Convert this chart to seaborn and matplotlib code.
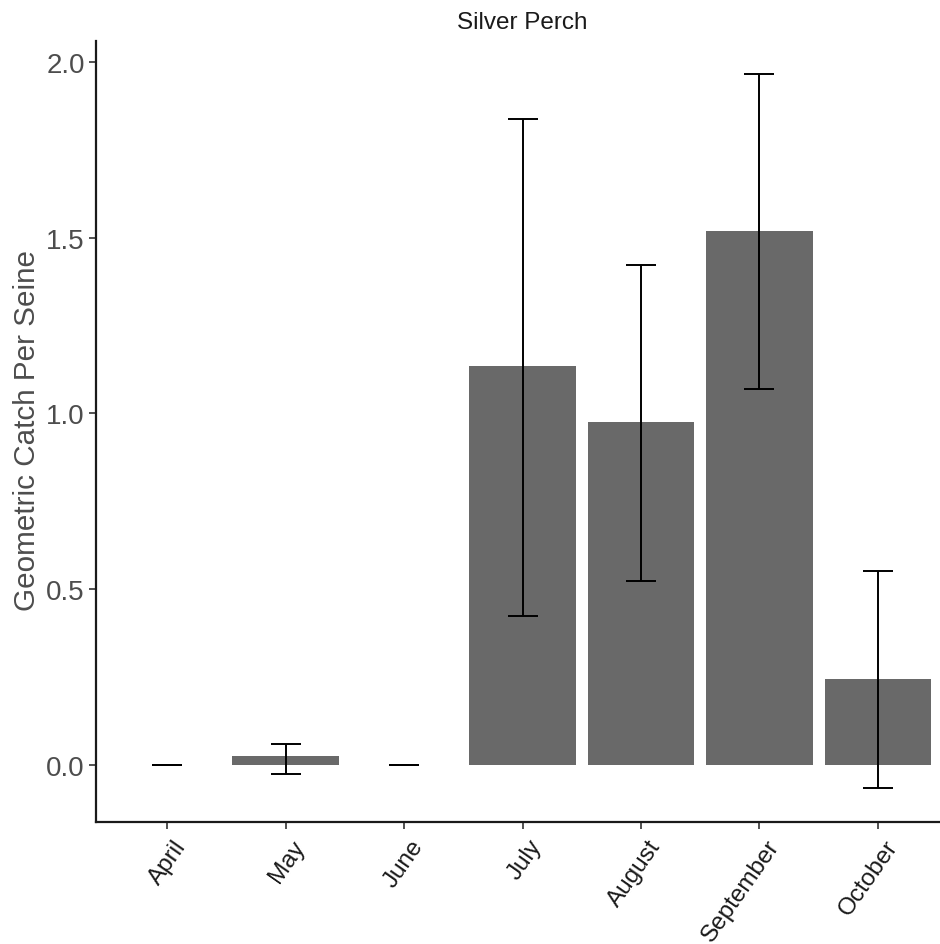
import numpy as np
import pandas as pd
import matplotlib
matplotlib.use("Agg")
import matplotlib.pyplot as plt
import matplotlib.transforms as mtransforms
import seaborn as sns

months = ["April", "May", "June", "July", "August", "September", "October"]
catch_mean = [0.0, 0.026, 0.0, 1.134, 0.975, 1.520, 0.245]
ci_lower = [0.0, -0.026, 0.0, 0.425, 0.523, 1.069, -0.065]
ci_upper = [0.0, 0.060, 0.0, 1.838, 1.422, 1.964, 0.551]
y_ticks = [0.0, 0.5, 1.0, 1.5, 2.0]

df = pd.DataFrame({"month": months, "mean": catch_mean,
                   "lo": ci_lower, "hi": ci_upper})

sns.set_theme(style="ticks")
plt.rcParams["font.family"] = ["Liberation Sans", "DejaVu Sans"]

fig = plt.figure(figsize=(9.4, 9.45), dpi=100)
ax = fig.add_axes([96 / 940, 1 - 822.7 / 945, 853 / 940, 780.7 / 945])

sns.barplot(data=df, x="month", y="mean", order=months, color="#696969",
            saturation=1, width=0.9, errorbar=None, ax=ax,
            edgecolor="none", linewidth=0)

pos = np.arange(len(months))
means = np.array(catch_mean)
yerr = np.vstack([means - np.array(ci_lower), np.array(ci_upper) - means])
ax.errorbar(pos, means, yerr=yerr, fmt="none", ecolor="black",
            elinewidth=1.4, capsize=10.8, capthick=1.4, zorder=5)

ax.set_xlim(-0.6, 6.6)
ax.set_ylim(-0.161, 2.059)
ax.set_yticks(y_ticks)
ax.set_yticklabels([f"{v:.1f}" for v in y_ticks])

ax.set_xlabel("")
ax.set_ylabel("Geometric Catch Per Seine", fontsize=21.3, color="#4D4D4D")
ax.yaxis.set_label_coords(-0.064, 0.503)
ax.set_title("Silver Perch", fontsize=17.5, color="#1A1A1A", pad=9)

for s in ["top", "right"]:
    ax.spines[s].set_visible(False)
for s in ["left", "bottom"]:
    ax.spines[s].set_color("#1A1A1A")
    ax.spines[s].set_linewidth(1.6)

ax.tick_params(axis="y", labelsize=20, labelcolor="#4D4D4D", color="#333333",
               length=5, width=1.2, pad=3)
ax.tick_params(axis="x", labelsize=17.5, labelcolor="#1A1A1A", color="#333333",
               length=5, width=1.2, pad=5)
offset = mtransforms.ScaledTranslation(6 / 100, 0, fig.dpi_scale_trans)
for lab in ax.get_xticklabels():
    lab.set_rotation(55)
    lab.set_ha("right")
    lab.set_va("top")
    lab.set_rotation_mode("anchor")
    lab.set_transform(lab.get_transform() + offset)

fig.savefig("out.png", dpi=100, facecolor="white")
